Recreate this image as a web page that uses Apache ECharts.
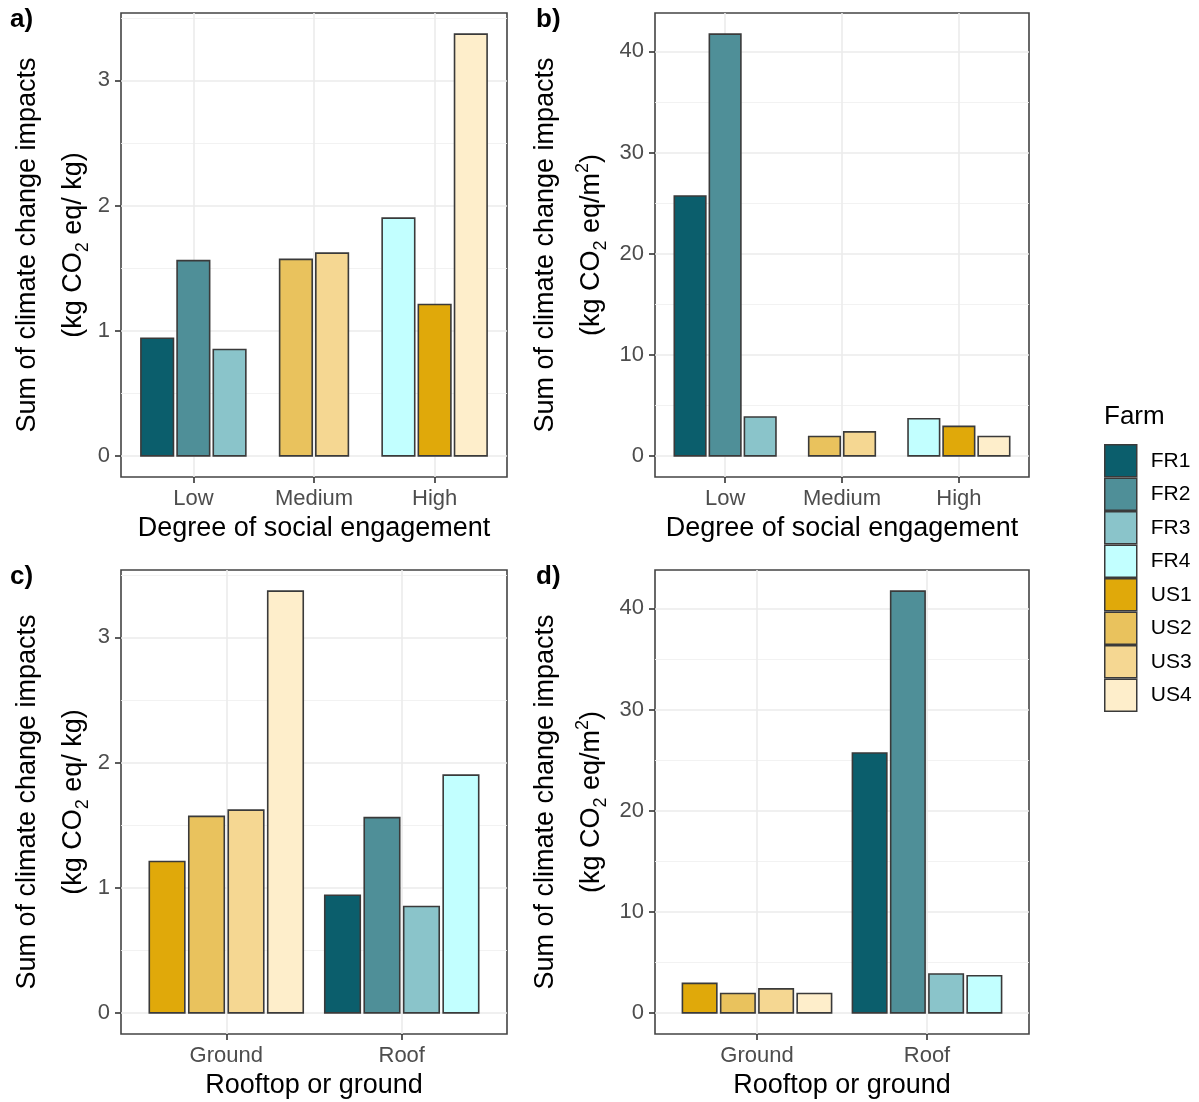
<!DOCTYPE html>
<html><head><meta charset="utf-8">
<script src="https://cdn.jsdelivr.net/npm/echarts@6/dist/echarts.min.js"></script>
<style>html,body{margin:0;padding:0;background:#fff}#c{width:1199px;height:1102px}</style>
</head><body><div id="c"></div>
<script>
// ---- data ----
const farms = ['FR1','FR2','FR3','FR4','US1','US2','US3','US4'];
const farmColors = ['#0b5e6c','#4f8f98','#8ac4ca','#c2ffff','#e0a90a','#e9c25d','#f5d792','#feeecb'];
const impactPerKg = [0.94, 1.56, 0.85, 1.90, 1.21, 1.57, 1.62, 3.37];
const impactPerM2 = [25.7, 41.7, 3.85, 3.68, 2.92, 1.92, 2.38, 1.92];
const engagementCats = ['Low','Medium','High'];
const farmEngagement = ['Low','Low','Low','High','High','Medium','Medium','High'];
const locationCats = ['Ground','Roof'];
const farmLocation = ['Roof','Roof','Roof','Roof','Ground','Ground','Ground','Ground'];
const kgTicks = [0,1,2,3];
const kgMinor = [0.5,1.5,2.5,3.5];
const m2Ticks = [0,10,20,30,40];
const m2Minor = [5,15,25,35];

// ---- layout ----
const FONT = '"Liberation Sans", Arial, sans-serif';
const panels = [
  {tag:'a)', values:impactPerKg, cats:engagementCats, groups:farmEngagement, ticks:kgTicks, minor:kgMinor,
   xName:'Degree of social engagement', unit:'kg', grid:{left:121,top:13,width:386,height:464}, tagPos:[10,7], nameGap:24},
  {tag:'b)', values:impactPerM2, cats:engagementCats, groups:farmEngagement, ticks:m2Ticks, minor:m2Minor,
   xName:'Degree of social engagement', unit:'m2', grid:{left:655,top:13,width:374,height:464}, tagPos:[536,7], nameGap:40},
  {tag:'c)', values:impactPerKg, cats:locationCats, groups:farmLocation, ticks:kgTicks, minor:kgMinor,
   xName:'Rooftop or ground', unit:'kg', grid:{left:121,top:570,width:386,height:464}, tagPos:[10,564], nameGap:24},
  {tag:'d)', values:impactPerM2, cats:locationCats, groups:farmLocation, ticks:m2Ticks, minor:m2Minor,
   xName:'Rooftop or ground', unit:'m2', grid:{left:655,top:570,width:374,height:464}, tagPos:[536,564], nameGap:40}
];

const grids=[], xAxes=[], yAxes=[], series=[], titles=[];
const rich = {
  t:{fontSize:27, color:'#000', fontFamily:FONT, lineHeight:46, verticalAlign:'middle'},
  s:{fontSize:18, color:'#000', fontFamily:FONT, verticalAlign:'middle', padding:[18,0,0,0]},
  p:{fontSize:18, color:'#000', fontFamily:FONT, verticalAlign:'middle', padding:[0,0,18,0]}
};

panels.forEach((P, pi) => {
  grids.push(Object.assign({show:true, backgroundColor:'#fff', borderColor:'#444', borderWidth:1.6}, P.grid));
  const cats = P.cats;
  const catIdx = cats.map((_,i)=>i);
  xAxes.push({
    type:'value', gridIndex:pi, min:-0.6, max:cats.length-1+0.6,
    axisLine:{show:false, onZero:false},
    axisTick:{show:true, length:6, lineStyle:{color:'#333', width:1.6}, customValues:catIdx},
    axisLabel:{customValues:catIdx, formatter:v=>cats[Math.round(v)], fontSize:22, color:'#4d4d4d', fontFamily:FONT, margin:11},
    splitLine:{show:true, lineStyle:{color:'#ebebeb', width:1.6}},
    name:P.xName, nameLocation:'middle', nameGap:38,
    nameTextStyle:{fontSize:27, color:'#000', fontFamily:FONT}
  });
  const maxV = Math.max(...P.values);
  const yMin = -0.05*maxV, yMax = 1.05*maxV;
  const unitTxt = P.unit==='kg' ? '{t|(kg CO}{s|2}{t| eq/ kg)}' : '{t|(kg CO}{s|2}{t| eq/m}{p|2}{t|)}';
  yAxes.push({
    type:'value', gridIndex:pi, min:yMin, max:yMax,
    axisLine:{show:false, onZero:false},
    axisTick:{show:true, length:6, lineStyle:{color:'#333', width:1.6}, customValues:P.ticks},
    axisLabel:{customValues:P.ticks, fontSize:22, color:'#4d4d4d', fontFamily:FONT, margin:11},
    splitLine:{show:true, lineStyle:{color:'#ebebeb', width:1.6}},
    name:'{t|Sum of climate change impacts}\n' + unitTxt,
    nameLocation:'middle', nameRotate:90, nameGap:P.nameGap,
    nameTextStyle:{rich:rich, fontFamily:FONT, fontSize:27, color:'#000'}
  });
  yAxes.push({
    type:'value', gridIndex:pi, min:yMin, max:yMax, position:'left',
    axisLine:{show:false, onZero:false}, axisLabel:{show:false},
    axisTick:{show:false, customValues:P.minor},
    splitLine:{show:true, lineStyle:{color:'#f0f0f0', width:0.9}}
  });
  titles.push({text:P.tag, left:P.tagPos[0], top:P.tagPos[1], padding:0,
    textStyle:{fontSize:26, fontWeight:'bold', color:'#000', fontFamily:FONT}});

  // dodge (ggplot position_dodge2, preserve = "single")
  const counts = cats.map(c => P.groups.filter(g => g===c).length);
  const maxN = Math.max(...counts);
  const pitch = 0.9/maxN, hw = pitch*0.9/2;
  farms.forEach((f, i) => {
    const ci = cats.indexOf(P.groups[i]);
    const members = farms.map((_,j)=>j).filter(j => P.groups[j]===P.groups[i]);
    const slot = members.indexOf(i), n = members.length;
    const xc = ci + (slot-(n-1)/2)*pitch;
    const col = farmColors[i];
    series.push({
      type:'custom', name:f, xAxisIndex:pi, yAxisIndex:2*pi,
      encode:{x:0, y:1},
      data:[[xc, P.values[i], hw]],
      itemStyle:{color:col, borderColor:'#3a3a3a', borderWidth:1.5},
      renderItem:(params, api) => {
        const x = api.value(0), y = api.value(1), h = api.value(2);
        const p0 = api.coord([x-h, 0]), p1 = api.coord([x+h, y]);
        return {type:'rect',
          shape:{x:p0[0], y:p1[1], width:p1[0]-p0[0], height:p0[1]-p1[1]},
          style:{fill:col, stroke:'#3a3a3a', lineWidth:1.6}};
      }
    });
  });
});

titles.push({text:'Farm', left:1104, top:404, padding:0,
  textStyle:{fontSize:26, fontWeight:'normal', color:'#000', fontFamily:FONT}});

const chart = echarts.init(document.getElementById('c'), null, {renderer:'canvas'});
chart.setOption({
  animation:false,
  backgroundColor:'#fff',
  title:titles,
  grid:grids, xAxis:xAxes, yAxis:yAxes,
  legend:{
    data:farms, orient:'vertical', left:1104, top:444, padding:0,
    icon:'rect', itemWidth:32, itemHeight:32, itemGap:0,
    itemStyle:{borderColor:'#3a3a3a', borderWidth:1.5},
    textStyle:{fontSize:21, color:'#000', fontFamily:FONT, padding:[0,0,0,9]},
    selectedMode:false
  },
  series:series
});
</script></body></html>
